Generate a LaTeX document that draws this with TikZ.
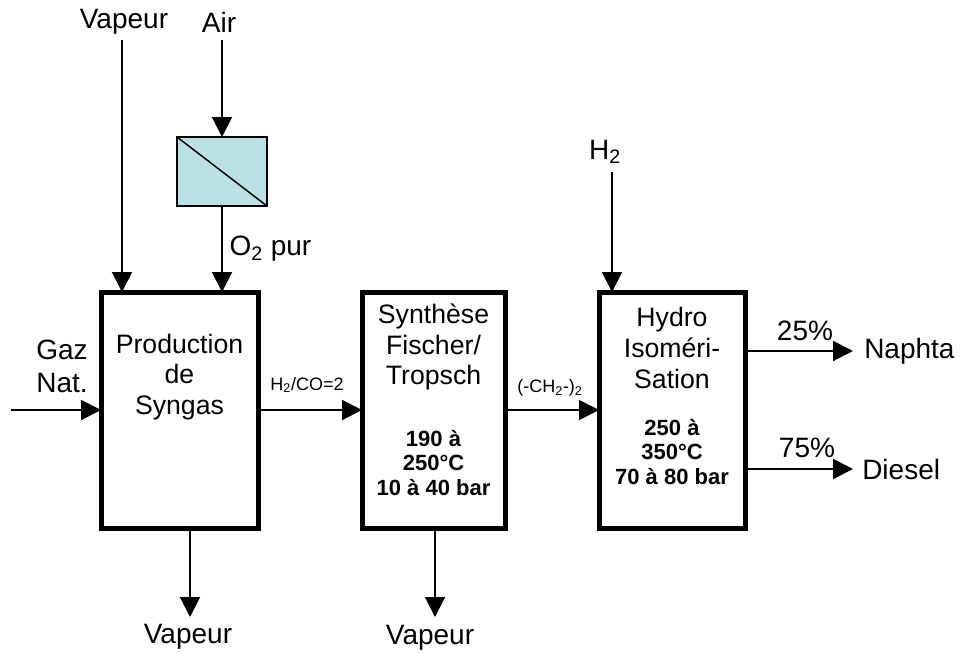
\documentclass[tikz,border=0pt]{standalone}
\usepackage{fontspec}
\setmainfont{Liberation Sans}
\usetikzlibrary{arrows.meta,positioning,calc}
\definecolor{MembCyan}{HTML}{BBE0E3}
\tikzset{
  unit/.style={block,line width=3.75pt,inner sep=0pt,outer sep=0pt},
  block/.style={draw=black},
  membrane/.style={draw=black,fill=MembCyan,line width=1.1pt,inner sep=0pt,outer sep=0pt,minimum width=67.5pt,minimum height=51.75pt},
  flow/.style={-{Triangle[length=15pt,width=15pt]},line width=1.5pt},
  lbl/.style={font=\fontsize{21}{25}\selectfont,inner sep=0pt},
  small/.style={font=\fontsize{13.5}{16}\selectfont,inner sep=0pt},
  title/.style={align=center,inner sep=0pt,font=\fontsize{20}{23}\selectfont},
  param/.style={align=center,inner sep=0pt,font=\bfseries\fontsize{16.5}{18.5}\selectfont}
}

\begin{document}
\begin{tikzpicture}[x=0.75pt,y=-0.75pt]
  \useasboundingbox (0,0) rectangle (961,653);

  % process units
  \node[unit,minimum width=117.75pt,minimum height=177pt] (prod) at (179.5,410) {};
  \node[unit,minimum width=107.25pt,minimum height=177pt] (fts) at (433.5,410) {};
  \node[unit,minimum width=109.5pt,minimum height=177pt] (hydro) at (672,410) {};
  \node[title] (prodtxt) at (179.5,377) {Production\\de\\Syngas};
  \node[title] (ftstxt) at (433.5,347) {Synthèse\\Fischer/\\Tropsch};
  \node[param] (ftspar) at (433.5,463) {190 à\\250°C\\10 à 40 bar};
  \node[title] (hydrotxt) at (672,348) {Hydro\\Isoméri-\\Sation};
  \node[param] (hydropar) at (672,452) {250 à\\350°C\\70 à 80 bar};

  % air separation
  \node[membrane] (asu) at (222,171.5) {};
  \draw[line width=1.1pt] (asu.north west) -- (asu.south east);

  % feeds
  \node[lbl] (vapin) at (124,22) {Vapeur};
  \node[lbl] (airin) at (219,22) {Air};
  \coordinate (vaptop) at (122,40);
  \coordinate (airtop) at (222,40);
  \draw[flow] (vaptop) -- (vaptop |- prod.north);
  \draw[flow] (airtop) -- (asu.north);
  \draw[flow] (asu.south) -- (asu.south |- prod.north)
    node[lbl,pos=0.5,anchor=west,xshift=5pt] (o2) {O\textsubscript{2} pur};

  \node[lbl,align=center,font=\fontsize{21}{24.75}\selectfont] (gaz) at (62,366) {Gaz\\Nat.};
  \coordinate (gazstart) at (11,410);
  \draw[flow] (gazstart) -- (prod.west);

  \node[lbl] (h2in) at (605,152) {H\textsubscript{2}};
  \coordinate (h2top) at (612,172);
  \draw[flow] (h2top) -- (h2top |- hydro.north);

  % intermediate streams
  \draw[flow] (prod.east) -- (fts.west);
  \node[small] (ratio) at (307,385) {H\textsubscript{2}/CO=2};
  \draw[flow] (fts.east) -- (hydro.west);
  \node[small] (chain) at (550,388) {(-CH\textsubscript{2}-)\textsubscript{2}};

  % products
  \coordinate (naphend) at (853,351);
  \coordinate (dieselend) at (853,469);
  \draw[flow] (hydro.east |- naphend) -- (naphend);
  \draw[flow] (hydro.east |- dieselend) -- (dieselend);
  \node[lbl] (p25) at (805,331) {25\%};
  \node[lbl] (p75) at (807,448) {75\%};
  \node[lbl,anchor=west] (naphta) at (864,351) {Naphta};
  \node[lbl,anchor=west] (diesel) at (862,469) {Diesel};

  % steam
  \node[lbl] (vapout1) at (188,637) {Vapeur};
  \node[lbl] (vapout2) at (430,638) {Vapeur};
  \coordinate (vapend1) at (190,617);
  \coordinate (vapend2) at (435,617);
  \draw[flow] (vapend1 |- prod.south) -- (vapend1);
  \draw[flow] (vapend2 |- fts.south) -- (vapend2);
\end{tikzpicture}
\end{document}
